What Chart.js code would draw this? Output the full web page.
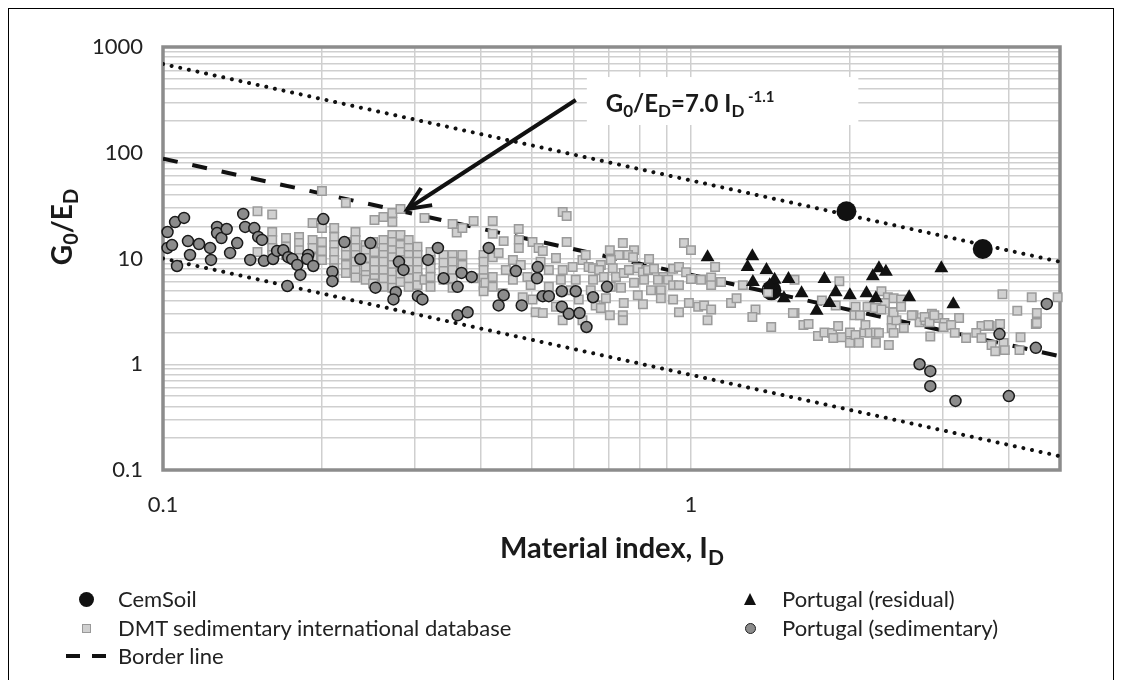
<!DOCTYPE html>
<html>
<head>
<meta charset="utf-8">
<title>G0/ED vs material index</title>
<script src="https://cdn.jsdelivr.net/npm/chart.js@4.4.1/dist/chart.umd.min.js"></script>
<style>
  html, body { margin: 0; padding: 0; background: #fff; overflow: hidden; }
  #wrap { position: relative; width: 1122px; height: 680px; overflow: hidden; }
  #frame { position: absolute; left: 8px; top: 8px; width: 1106px; height: 720px; border: 1px solid #000; box-sizing: border-box; }
  #chart { position: absolute; left: 0; top: 0; }
  .leg { position: absolute; font-family: Lato, "Open Sans", sans-serif; font-size: 22px; line-height: 26px; color: #222; white-space: nowrap; }
  .mk { position: absolute; box-sizing: border-box; }
</style>
</head>
<body>
<div id="wrap">
  <div id="frame"></div>
  <canvas id="chart" width="1122" height="680"></canvas>

  <!-- 범례 -->
  <div class="mk" style="left:79px;top:592px;width:15px;height:15px;border-radius:50%;background:#111"></div>
  <div class="leg" style="left:118px;top:586px">CemSoil</div>
  <div class="mk" style="left:82px;top:624px;width:9px;height:9px;background:#d0d0d0;border:1px solid #999"></div>
  <div class="leg" style="left:118px;top:615px">DMT sedimentary international database</div>
  <div class="mk" style="left:66px;top:654px;width:14px;height:4px;background:#111"></div>
  <div class="mk" style="left:92px;top:654px;width:14px;height:4px;background:#111"></div>
  <div class="leg" style="left:118px;top:643px">Border line</div>
  <div class="mk" style="left:744px;top:593px;width:0;height:0;border-left:6px solid transparent;border-right:6px solid transparent;border-bottom:12px solid #111"></div>
  <div class="leg" style="left:782px;top:586px">Portugal (residual)</div>
  <div class="mk" style="left:745px;top:623px;width:11px;height:11px;border-radius:50%;background:#8c8c8c;border:1.5px solid #222"></div>
  <div class="leg" style="left:782px;top:615px">Portugal (sedimentary)</div>
</div>

<script>
// 축 눈금
const xTicks = [0.1, 0.2, 0.3, 0.4, 0.5, 0.6, 0.7, 0.8, 0.9, 1, 2, 3, 4, 5];
const yTicks = [0.1, 0.2, 0.3, 0.4, 0.5, 0.6, 0.7, 0.8, 0.9, 1, 2, 3, 4, 5, 6, 7, 8, 9,
                10, 20, 30, 40, 50, 60, 70, 80, 90, 100, 200, 300, 400, 500, 600, 700, 800, 900, 1000];
const xLabelTicks = [0.1, 1];
const yLabelTicks = [0.1, 1, 10, 100, 1000];

// 데이터 [ID, G0/ED]
const cemSoilPoints = [[1.97, 28], [3.57, 12.3], [1.42, 5.0]];

const portugalResidualPoints = [
  [1.075, 10.3], [1.307, 10.5], [1.28, 8.3], [1.39, 7.8], [1.44, 6.3], [1.31, 6.0], [1.41, 5.6],
  [1.53, 6.4], [1.50, 4.2], [1.62, 4.7], [1.79, 6.4], [1.88, 4.8], [2.0, 4.5], [1.73, 3.2],
  [1.83, 3.8], [2.15, 4.7], [2.21, 6.8], [2.27, 8.1], [2.34, 7.5], [2.24, 4.2], [2.59, 4.3],
  [2.98, 8.1], [3.14, 3.7]
];

const portugalSedimentaryPoints = [
  [0.102, 17.8], [0.102, 12.6], [0.104, 13.4], [0.1054, 22.1], [0.1096, 24.2], [0.1063, 8.5],
  [0.1115, 14.6], [0.1125, 10.8], [0.117, 13.7], [0.1228, 12.6], [0.1233, 9.7], [0.1266, 19.9],
  [0.1266, 17.4], [0.129, 15.6], [0.132, 19.0], [0.134, 11.3], [0.1382, 14.0], [0.1419, 26.4],
  [0.1431, 19.9], [0.1489, 19.4], [0.1515, 16.0], [0.154, 15.0], [0.1463, 9.7], [0.1553, 9.5],
  [0.1616, 9.9], [0.1645, 11.8], [0.169, 12.0], [0.1727, 10.3], [0.1757, 9.9], [0.1796, 8.7],
  [0.182, 7.0], [0.172, 5.5], [0.1884, 10.8], [0.1876, 9.9], [0.1926, 8.5], [0.2012, 23.6],
  [0.2093, 7.5], [0.2093, 6.1], [0.2206, 14.3], [0.2365, 9.9], [0.2471, 14.0], [0.2526, 5.3],
  [0.3317, 12.6], [0.3177, 9.7], [0.2798, 9.3], [0.2854, 7.8], [0.276, 4.8], [0.2732, 4.1],
  [0.304, 4.4], [0.310, 4.1], [0.340, 6.5], [0.3614, 5.4], [0.3676, 7.3], [0.3842, 6.7],
  [0.414, 12.6], [0.3614, 2.9], [0.3775, 3.1], [0.4418, 4.5], [0.4322, 3.6], [0.466, 7.6],
  [0.5125, 8.3], [0.511, 6.5], [0.478, 3.6], [0.524, 4.4], [0.538, 4.4], [0.5693, 4.9],
  [0.605, 4.9], [0.5693, 3.5], [0.587, 3.0], [0.615, 3.05], [0.634, 2.25], [0.6525, 4.3],
  [0.6935, 5.4],
  [4.72, 3.72], [3.84, 1.93], [4.5, 1.43], [2.71, 1.0], [2.84, 0.86], [2.84, 0.62], [3.17, 0.45], [4.0, 0.50]
];

const dmtPoints = [
  [0.151, 28], [0.161, 26], [0.151, 11.5],
  [0.161, 17.8], [0.161, 15], [0.161, 12.6], [0.161, 10.8],
  [0.171, 15.6], [0.171, 12.9], [0.171, 10.8],
  [0.181, 16], [0.181, 14], [0.181, 12], [0.181, 10.1],
  [0.192, 21.7], [0.192, 15], [0.192, 12.6], [0.192, 10.1],
  [0.200, 43.4], [0.200, 19.4], [0.200, 14.3], [0.200, 11.8], [0.200, 9.7],
  [0.211, 19.4], [0.211, 16], [0.211, 13.4], [0.211, 11.5], [0.211, 9.7], [0.211, 8.1], [0.211, 6.7],
  [0.222, 33.5], [0.222, 14.3], [0.222, 12.9], [0.222, 10.8], [0.222, 8.7], [0.222, 7.3],
  [0.2315, 17.8], [0.2315, 15], [0.2315, 12.6], [0.2315, 10.8], [0.2315, 9.3], [0.2315, 7.8], [0.2315, 6.6],
  [0.242, 13.4], [0.242, 12], [0.242, 10.1], [0.242, 8.3], [0.242, 7.0], [0.242, 6.3],
  [0.2515, 23.1], [0.250, 14.3], [0.2515, 11.5], [0.2515, 9.3], [0.2515, 7.8], [0.2515, 6.5], [0.250, 5.8],
  [0.2615, 24.7], [0.2615, 15], [0.2615, 12.6], [0.2615, 10.8], [0.2615, 9.3], [0.2615, 7.8], [0.2615, 6.5], [0.2615, 5.4],
  [0.2719, 26.9], [0.2719, 22.1], [0.2719, 16.7], [0.2719, 14.3], [0.2719, 12], [0.2719, 10.3], [0.2719, 8.7], [0.2719, 7.4], [0.2719, 6.3], [0.2719, 5.3],
  [0.2817, 29.4], [0.2817, 16.7], [0.2817, 13.4], [0.2817, 11.5], [0.2817, 9.7], [0.2817, 8.3], [0.2817, 7.0], [0.2817, 6.0],
  [0.292, 15], [0.292, 12.6], [0.292, 10.8], [0.292, 9.3], [0.292, 7.8], [0.292, 6.5], [0.292, 5.4],
  [0.3034, 12.9], [0.3034, 10.8], [0.3034, 9.3], [0.3034, 7.8], [0.3034, 6.7], [0.3034, 5.6],
  [0.3128, 24.2], [0.3128, 6.3],
  [0.3212, 11.5], [0.3212, 9.7], [0.3212, 8.1], [0.3212, 6.7], [0.3212, 5.4],
  [0.3399, 10.8], [0.3399, 9.1], [0.3399, 7.6], [0.3399, 6.3],
  [0.3536, 21.2], [0.3536, 10.8], [0.3536, 9.3], [0.3536, 7.8], [0.3536, 6.5], [0.3536, 5.3],
  [0.360, 17.6], [0.369, 19.4], [0.369, 10.8], [0.369, 8.7],
  [0.3876, 22.6], [0.3876, 6.5],
  [0.4048, 10.8], [0.4048, 9.3], [0.4048, 7.8], [0.4048, 6.5], [0.4048, 5.6], [0.4048, 4.9],
  [0.408, 5.9], [0.4212, 22.6], [0.4212, 17.1], [0.4212, 10.3], [0.4212, 6.7], [0.4212, 5.4],
  [0.4322, 11.3], [0.4398, 4.7], [0.4418, 14.6], [0.460, 9.7], [0.460, 6.3], [0.4718, 19.0],
  [0.472, 15], [0.472, 12.6], [0.480, 4.3], [0.490, 6.7], [0.501, 14.3], [0.501, 4.1], [0.508, 3.1],
  [0.5145, 12.6], [0.524, 11.8], [0.524, 3.05], [0.538, 5.4], [0.555, 3.5], [0.5715, 27.5],
  [0.5815, 25.2], [0.5815, 14.3], [0.5715, 7.8], [0.5715, 2.6], [0.597, 8.3], [0.605, 6.3],
  [0.623, 9.7], [0.640, 8.3], [0.623, 2.6], [0.6525, 6.3],
  [0.519, 9.3], [0.538, 7.8], [0.555, 10.1], [0.567, 6.3], [0.592, 5.0], [0.613, 4.1], [0.632, 10.8],
  [0.646, 5.0], [0.660, 3.6], [0.446, 7.8], [0.476, 8.7], [0.497, 5.6],
  [0.743, 14.0], [0.780, 12], [0.702, 12], [0.730, 10.8], [0.760, 10.8], [0.777, 10.3], [0.833, 9.9],
  [0.705, 9.7], [0.675, 8.7], [0.652, 8.1], [0.670, 7.8], [0.711, 8.1], [0.684, 6.7], [0.721, 6.7],
  [0.746, 7.3], [0.763, 7.8], [0.793, 8.1], [0.811, 7.4], [0.829, 7.8], [0.851, 8.0], [0.886, 6.7],
  [0.925, 8.0], [0.949, 8.3], [0.979, 7.4], [1.00, 6.4], [0.780, 5.9], [0.815, 6.3], [0.866, 6.3],
  [0.905, 6.3], [0.705, 5.4], [0.737, 5.3], [0.793, 4.5], [0.840, 5.0], [0.877, 5.0], [0.925, 5.6],
  [0.949, 5.6], [0.690, 4.2], [0.746, 3.8], [0.675, 3.4], [0.702, 2.9], [0.743, 2.9], [0.743, 2.6],
  [0.811, 3.7], [0.877, 4.2], [0.925, 4.1], [0.949, 3.1], [0.991, 3.8], [1.032, 3.5], [1.059, 3.6],
  [1.092, 3.3], [1.045, 6.3], [1.092, 6.6], [1.092, 5.6], [1.140, 6.0], [1.111, 8.3], [1.191, 3.8],
  [1.254, 5.6], [1.325, 3.3], [1.307, 2.8], [1.399, 4.8], [1.571, 6.3], [1.571, 3.05], [1.419, 2.25],
  [1.633, 2.35], [1.075, 2.6], [0.97, 14], [1.0, 12], [1.22, 4.2],
  [1.91, 6.1], [1.77, 4.0], [1.88, 3.6], [1.67, 2.4], [2.05, 3.5], [2.18, 3.5], [2.295, 4.9],
  [2.36, 4.3], [2.42, 4.2], [2.50, 4.1], [2.25, 3.4], [2.33, 3.8], [2.41, 3.1], [2.40, 2.6],
  [2.64, 2.9], [2.71, 2.5], [2.78, 2.6], [2.86, 3.0], [2.94, 2.74], [3.02, 2.45], [3.22, 2.74],
  [3.55, 2.3], [3.68, 2.3], [3.85, 2.4], [3.89, 4.6], [4.15, 3.2], [4.42, 4.3], [4.52, 3.05],
  [4.50, 2.4], [4.95, 4.3],
  [1.56, 3.05], [1.74, 1.85], [1.79, 2.0], [1.85, 1.98], [1.86, 1.77], [1.93, 1.8], [2.0, 2.0],
  [2.0, 1.6], [2.05, 1.89], [2.08, 1.6], [2.13, 2.0], [2.14, 2.35], [2.18, 1.98], [2.24, 2.0],
  [2.24, 1.6], [2.27, 1.98], [2.37, 1.52], [2.40, 2.2], [2.42, 1.98], [2.45, 2.6], [2.53, 2.2],
  [1.90, 2.3], [2.04, 2.9], [2.09, 2.9], [2.16, 3.5], [2.23, 3.4], [2.295, 3.3], [2.42, 3.1],
  [2.50, 3.5], [2.62, 2.9], [2.77, 2.8], [2.83, 2.5], [2.84, 1.83], [2.89, 2.9], [3.01, 2.25],
  [3.11, 2.35], [3.16, 1.98], [3.32, 1.77], [3.47, 1.98], [3.55, 1.77], [3.66, 2.35], [3.71, 1.52],
  [3.77, 1.33], [3.91, 1.59], [3.93, 1.36], [4.19, 1.36], [4.21, 1.8], [4.52, 2.45]
];

// 경계선 / 상한, 하한 (양 끝점)
const upperLine = [[0.1, 690], [5, 9.3]];
const borderLine = [[0.1, 88], [5, 1.19]];
const lowerLine = [[0.1, 10], [5, 0.135]];

// 주석 상자와 화살표 (데이터 좌표)
const noteBox = { xMin: 0.635, xMax: 2.075, yMin: 183, yMax: 520 };
const arrowFrom = [0.605, 315];
const arrowTo = [0.2904, 29.4];

const FONT = 'Lato, "Open Sans", sans-serif';

function toXY(list) {
    return list.map(p => ({ x: p[0], y: p[1] }));
}

function runsWidth(ctx, runs) {
    let w = 0;
    runs.forEach(r => { ctx.font = r.font; w += ctx.measureText(r.t).width; });
    return w;
}

function drawRuns(ctx, runs, x, y) {
    runs.forEach(r => {
        ctx.font = r.font;
        ctx.fillText(r.t, x, y + (r.dy || 0));
        x += ctx.measureText(r.t).width;
    });
}

const decorPlugin = {
    id: 'decor',
    beforeDatasetsDraw(chart) {
        const a = chart.chartArea;
        const ctx = chart.ctx;
        ctx.save();
        ctx.strokeStyle = '#8c8c8c';
        ctx.lineWidth = 3.5;
        ctx.strokeRect(a.left, a.top, a.right - a.left, a.bottom - a.top);
        ctx.restore();
    },
    afterDatasetsDraw(chart) {
        const ctx = chart.ctx;
        const xs = chart.scales.x, ys = chart.scales.y;

        // 주석 상자
        const bx0 = xs.getPixelForValue(noteBox.xMin), bx1 = xs.getPixelForValue(noteBox.xMax);
        const by0 = ys.getPixelForValue(noteBox.yMax), by1 = ys.getPixelForValue(noteBox.yMin);
        ctx.save();
        ctx.fillStyle = '#fff';
        ctx.fillRect(bx0, by0, bx1 - bx0, by1 - by0);
        ctx.fillStyle = '#1a1a1a';
        ctx.textBaseline = 'alphabetic';
        const big = 'bold 24px ' + FONT, small = 'bold 17px ' + FONT, sup = 'bold 15px ' + FONT;
        drawRuns(ctx, [
            { t: 'G', font: big }, { t: '0', font: small, dy: 5 },
            { t: '/E', font: big }, { t: 'D', font: small, dy: 5 },
            { t: '=7.0 I', font: big }, { t: 'D', font: small, dy: 5 },
            { t: ' -1.1', font: sup, dy: -10 }
        ], bx0 + 19, by0 + 35);

        // 화살표
        const x0 = xs.getPixelForValue(arrowFrom[0]), y0 = ys.getPixelForValue(arrowFrom[1]);
        const x1 = xs.getPixelForValue(arrowTo[0]), y1 = ys.getPixelForValue(arrowTo[1]);
        ctx.strokeStyle = '#111';
        ctx.lineWidth = 4;
        ctx.beginPath();
        ctx.moveTo(x0, y0);
        ctx.lineTo(x1, y1);
        ctx.stroke();
        const ang = Math.atan2(y0 - y1, x0 - x1);
        ctx.beginPath();
        ctx.moveTo(x1 + 25 * Math.cos(ang - 0.42), y1 + 25 * Math.sin(ang - 0.42));
        ctx.lineTo(x1, y1);
        ctx.lineTo(x1 + 25 * Math.cos(ang + 0.42), y1 + 25 * Math.sin(ang + 0.42));
        ctx.stroke();
        ctx.restore();
    },
    afterDraw(chart) {
        const ctx = chart.ctx;
        ctx.save();
        ctx.fillStyle = '#1a1a1a';
        ctx.textBaseline = 'alphabetic';

        // y축 제목
        const yRuns = [
            { t: 'G', font: 'bold 28px ' + FONT }, { t: '0', font: 'bold 20px ' + FONT, dy: 6 },
            { t: '/E', font: 'bold 28px ' + FONT }, { t: 'D', font: 'bold 20px ' + FONT, dy: 6 }
        ];
        ctx.translate(62, 227);
        ctx.rotate(-Math.PI / 2);
        drawRuns(ctx, yRuns, -runsWidth(ctx, yRuns) / 2, 10);
        ctx.restore();

        // x축 제목
        ctx.save();
        ctx.fillStyle = '#1a1a1a';
        const xRuns = [
            { t: 'Material index, I', font: 'bold 29px ' + FONT },
            { t: 'D', font: 'bold 21px ' + FONT, dy: 7 }
        ];
        drawRuns(ctx, xRuns, 612 - runsWidth(ctx, xRuns) / 2, 558);
        ctx.restore();
    }
};

var ctx = document.getElementById('chart').getContext('2d');

var g0Chart = new Chart(ctx, {
    type: 'scatter',
    data: {
        datasets: [
            {
                label: 'CemSoil',
                data: toXY(cemSoilPoints),
                pointStyle: 'circle',
                pointRadius: 10,
                backgroundColor: '#111',
                borderColor: '#111',
                borderWidth: 0,
                clip: false,
                order: 6
            },
            {
                label: 'DMT sedimentary international database',
                data: toXY(dmtPoints),
                pointStyle: 'rect',
                pointRadius: 6,
                backgroundColor: '#d0d0d0',
                borderColor: '#9a9a9a',
                borderWidth: 1.5,
                clip: false,
                order: 5
            },
            {
                label: 'Portugal (residual)',
                data: toXY(portugalResidualPoints),
                pointStyle: 'triangle',
                pointRadius: 8,
                backgroundColor: '#111',
                borderColor: '#111',
                borderWidth: 0,
                clip: false,
                order: 4
            },
            {
                label: 'Portugal (sedimentary)',
                data: toXY(portugalSedimentaryPoints),
                pointStyle: 'circle',
                pointRadius: 5.5,
                backgroundColor: '#8c8c8c',
                borderColor: '#1a1a1a',
                borderWidth: 1.5,
                clip: false,
                order: 3
            },
            {
                label: 'Border line',
                data: toXY(borderLine),
                showLine: true,
                pointRadius: 0,
                borderColor: '#111',
                borderWidth: 4,
                borderDash: [15, 15],
                order: 10
            },
            {
                label: 'upper',
                data: toXY(upperLine),
                showLine: true,
                pointRadius: 0,
                borderColor: '#111',
                borderWidth: 4,
                borderDash: [0.01, 8.8],
                borderCapStyle: 'round',
                order: 11
            },
            {
                label: 'lower',
                data: toXY(lowerLine),
                showLine: true,
                pointRadius: 0,
                borderColor: '#111',
                borderWidth: 4,
                borderDash: [0.01, 8.8],
                borderCapStyle: 'round',
                order: 12
            }
        ]
    },
    options: {
        responsive: false,
        animation: false,
        devicePixelRatio: 1,
        layout: { padding: { left: 0, top: 47, right: 62, bottom: 150 } },
        plugins: {
            legend: { display: false },
            tooltip: { enabled: false }
        },
        scales: {
            x: {
                type: 'logarithmic',
                min: 0.1,
                max: 5,
                afterBuildTicks: scale => { scale.ticks = xTicks.map(v => ({ value: v })); },
                afterFit: scale => { scale.height = 60; },
                grid: { color: '#cfcfcf', lineWidth: 1.5, drawTicks: false },
                border: { display: false },
                ticks: {
                    autoSkip: false,
                    maxRotation: 0,
                    padding: 22,
                    color: '#222',
                    font: { family: FONT, size: 22 },
                    callback: v => xLabelTicks.includes(v) ? String(v) : ''
                }
            },
            y: {
                type: 'logarithmic',
                min: 0.1,
                max: 1000,
                afterBuildTicks: scale => { scale.ticks = yTicks.map(v => ({ value: v })); },
                afterFit: scale => { scale.width = 163; },
                grid: { color: '#cfcfcf', lineWidth: 1.5, drawTicks: false },
                border: { display: false },
                ticks: {
                    autoSkip: false,
                    padding: 20,
                    color: '#222',
                    font: { family: FONT, size: 22 },
                    callback: v => yLabelTicks.includes(v) ? String(v) : ''
                }
            }
        }
    },
    plugins: [decorPlugin]
});
</script>
</body>
</html>
